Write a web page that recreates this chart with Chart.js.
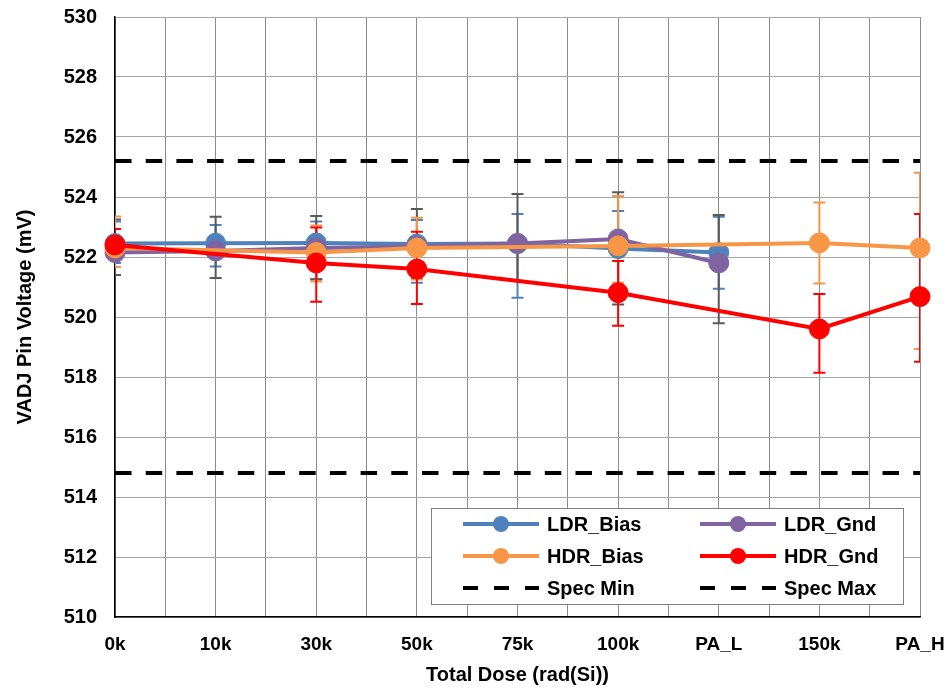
<!DOCTYPE html>
<html>
<head>
<meta charset="utf-8">
<script src="https://cdn.jsdelivr.net/npm/chart.js@4.4.1/dist/chart.umd.min.js"></script>
<style>
  html, body { margin: 0; padding: 0; background: #fff; }
</style>
</head>
<body>
<canvas id="myChart" width="950" height="689"></canvas>
<script>
// categories on the x axis
let doses = ['0k', '10k', '30k', '50k', '75k', '100k', 'PA_L', '150k', 'PA_H'];

// mean values (mV), null where the group was not measured
let ldrBias = [522.45, 522.46, 522.47, 522.43, 522.45, 522.28, 522.15, null, null];
let ldrGnd  = [522.15, 522.20, 522.30, 522.35, 522.45, 522.60, 521.80, null, null];
let hdrBias = [522.30, null, 522.15, 522.30, null, 522.37, null, 522.47, 522.30];
let hdrGnd  = [522.40, null, 521.80, 521.60, null, 520.81, null, 519.60, 520.68];

// error bar ends
let ldrBiasHi = [523.18, 523.07, 523.18, 523.23, 523.43, 523.53, 523.34, null, null];
let ldrBiasLo = [521.80, 521.68, 521.27, 521.14, 520.64, 521.05, 520.94, null, null];
let ldrGndHi  = [523.25, 523.34, 523.37, 523.60, 524.10, 524.16, 523.40, null, null];
let ldrGndLo  = [521.40, 521.30, 521.25, 521.29, 521.20, 520.42, 519.79, null, null];
let hdrBiasHi = [523.35, null, 523.05, 523.31, null, 524.03, null, 523.82, 524.81];
let hdrBiasLo = [521.67, null, 521.18, 521.25, null, 521.14, null, 521.12, 518.93];
let hdrGndHi  = [522.93, null, 522.98, 522.84, null, 521.87, null, 520.77, 523.43];
let hdrGndLo  = [521.95, null, 520.51, 520.43, null, 519.71, null, 518.14, 518.51];

// spec limits
let specMin = [514.8, 514.8, 514.8, 514.8, 514.8, 514.8, 514.8, 514.8, 514.8];
let specMax = [525.2, 525.2, 525.2, 525.2, 525.2, 525.2, 525.2, 525.2, 525.2];

const FONT = "'Liberation Sans', Arial, sans-serif";

function pts(arr) {
  return arr.map(function(v, i) { return { x: i, y: v }; });
}

function series(label, vals, color, hi, lo, errColor, order) {
  return {
    label: label,
    data: pts(vals),
    borderColor: color,
    backgroundColor: color,
    borderWidth: 4,
    pointRadius: 10,
    pointBorderWidth: 1,
    pointBackgroundColor: color,
    pointBorderColor: color,
    spanGaps: true,
    clip: false,
    order: order,
    errHi: hi,
    errLo: lo,
    errColor: errColor
  };
}

function spec(label, vals) {
  return {
    label: label,
    data: pts(vals),
    borderColor: '#000',
    backgroundColor: '#000',
    borderWidth: 4,
    borderDash: [16.5, 14.2],
    pointRadius: 0,
    order: 6,
    dashed: true
  };
}

// error bars, drawn under the lines and markers
const errorBars = {
  id: 'errorBars',
  beforeDatasetsDraw(chart) {
    const ctx = chart.ctx, xs = chart.scales.x, ys = chart.scales.y, a = chart.chartArea;
    ctx.save();
    ctx.beginPath();
    ctx.rect(a.left, a.top, a.right - a.left, a.bottom - a.top);
    ctx.clip();
    chart.data.datasets.forEach(function(ds) {
      if (!ds.errHi) return;
      ctx.strokeStyle = ds.errColor;
      ctx.lineWidth = 2;
      ds.errHi.forEach(function(hi, i) {
        if (hi == null) return;
        const x = xs.getPixelForValue(i);
        const y1 = ys.getPixelForValue(hi);
        const y2 = ys.getPixelForValue(ds.errLo[i]);
        ctx.beginPath();
        ctx.moveTo(x, y1); ctx.lineTo(x, y2);
        ctx.moveTo(x - 6, y1); ctx.lineTo(x + 6, y1);
        ctx.moveTo(x - 6, y2); ctx.lineTo(x + 6, y2);
        ctx.stroke();
      });
    });
    ctx.restore();
  }
};

// boxed two-column legend in the lower right of the plot
const boxLegend = {
  id: 'boxLegend',
  afterDraw(chart) {
    const ctx = chart.ctx, a = chart.chartArea;
    const w = 472, h = 96;
    const left = a.right - 17 - w, top = a.bottom - 13 - h;
    ctx.save();
    ctx.fillStyle = '#fff';
    ctx.fillRect(left, top, w, h);
    ctx.strokeStyle = '#808080';
    ctx.lineWidth = 1;
    ctx.strokeRect(left + 0.5, top + 0.5, w, h);
    ctx.font = 'bold 20px ' + FONT;
    ctx.textBaseline = 'middle';
    ctx.textAlign = 'left';
    chart.data.datasets.forEach(function(ds, i) {
      const col = i % 2, row = Math.floor(i / 2);
      const x0 = left + 32 + col * 237;
      const y = top + 16 + row * 32;
      ctx.strokeStyle = ds.borderColor;
      ctx.lineWidth = 4;
      if (ds.dashed) {
        ctx.setLineDash([15, 16]);
      } else {
        ctx.setLineDash([]);
      }
      ctx.beginPath();
      ctx.moveTo(x0, y);
      ctx.lineTo(x0 + 76, y);
      ctx.stroke();
      ctx.setLineDash([]);
      if (!ds.dashed) {
        ctx.fillStyle = ds.borderColor;
        ctx.beginPath();
        ctx.arc(x0 + 38, y, 8, 0, Math.PI * 2);
        ctx.fill();
      }
      ctx.fillStyle = '#000';
      ctx.fillText(ds.label, x0 + 84, y + 1);
    });
    ctx.restore();
  }
};

var ctx1 = document.getElementById('myChart').getContext('2d');

var chart1 = new Chart(ctx1, {
  type: 'line',
  data: {
    datasets: [
      series('LDR_Bias', ldrBias, '#4F81BD', ldrBiasHi, ldrBiasLo, '#4F81BD', 4),
      series('LDR_Gnd', ldrGnd, '#8064A2', ldrGndHi, ldrGndLo, '#595959', 3),
      series('HDR_Bias', hdrBias, '#F79646', hdrBiasHi, hdrBiasLo, '#F79646', 2),
      series('HDR_Gnd', hdrGnd, '#FF0000', hdrGndHi, hdrGndLo, '#FF0000', 1),
      spec('Spec Min', specMin),
      spec('Spec Max', specMax)
    ]
  },
  options: {
    responsive: false,
    animation: false,
    devicePixelRatio: 1,
    layout: { padding: { left: 0, right: 30, top: 17, bottom: 0 } },
    plugins: {
      legend: { display: false },
      tooltip: { enabled: false }
    },
    scales: {
      x: {
        type: 'linear',
        min: 0,
        max: doses.length - 1,
        afterFit: function(s) { s.height = 72; s.paddingLeft = 0; s.paddingRight = 0; },
        ticks: {
          stepSize: 0.5,
          autoSkip: false,
          maxRotation: 0,
          padding: 16,
          color: '#000',
          font: { family: FONT, size: 19, weight: 'bold' },
          callback: function(v) { return Number.isInteger(v) ? doses[v] : ''; }
        },
        grid: { color: '#8c8c8c', lineWidth: 1, drawTicks: false },
        border: { color: '#000', width: 1.5 },
        title: {
          display: true,
          text: 'Total Dose (rad(Si))',
          color: '#000',
          font: { family: FONT, size: 20, weight: 'bold' },
          padding: { top: 0, bottom: 2 }
        }
      },
      y: {
        min: 510,
        max: 530,
        afterFit: function(s) { s.width = 115; s.paddingTop = 0; s.paddingBottom = 0; },
        ticks: {
          stepSize: 2,
          padding: 18,
          color: '#000',
          font: { family: FONT, size: 20, weight: 'bold' }
        },
        grid: { color: '#a6a6a6', lineWidth: 1, drawTicks: false },
        border: { color: '#000', width: 1.5 },
        title: {
          display: true,
          text: 'VADJ Pin Voltage (mV)',
          color: '#000',
          font: { family: FONT, size: 20, weight: 'bold' },
          padding: { top: 13, bottom: 0 }
        }
      }
    }
  },
  plugins: [errorBars, boxLegend]
});
</script>
</body>
</html>
